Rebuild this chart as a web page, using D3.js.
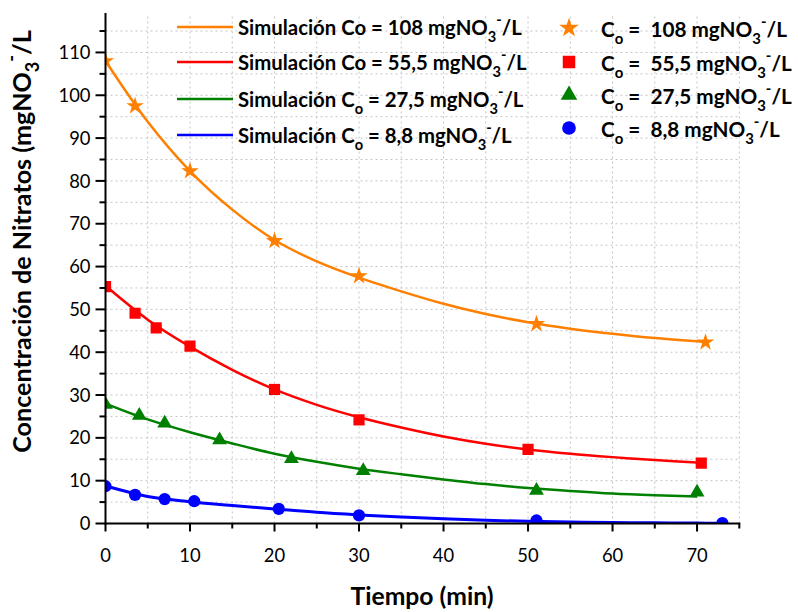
<!DOCTYPE html>
<html>
<head>
<meta charset="utf-8">
<script src="https://cdn.jsdelivr.net/npm/d3@7"></script>
<style>
  html, body { margin: 0; padding: 0; background: #fff; }
  svg { display: block; }
  text { font-family: Lato, "Open Sans", sans-serif; fill: #000; }
</style>
</head>
<body>
<svg id="chart" width="798" height="612"></svg>
<script>
// ---------- DATA ----------
// Observed (experimental) points
const obsT108 = [0, 3.5, 10, 20, 30, 51, 71];
const obs108  = [108, 97.5, 82.3, 66, 57.8, 46.6, 42.3];
const obsT55  = [0, 3.5, 6, 10, 20, 30, 50, 70.5];
const obs55   = [55.3, 49.1, 45.7, 41.4, 31.3, 24.2, 17.3, 14.1];
const obsT27  = [0, 4, 7, 13.5, 22, 30.5, 51, 70];
const obs27   = [27.8, 25.2, 23.4, 19.5, 15.1, 12.3, 7.7, 7.3];
const obsT8   = [0, 3.5, 7, 10.5, 20.5, 30, 51, 73];
const obs8    = [8.7, 6.7, 5.7, 5.2, 3.4, 1.9, 0.7, 0.1];

// Simulated curves
const simT108 = [0, 5, 10, 15, 20, 25, 30, 35, 40, 45, 50, 55, 60, 65, 71];
const sim108  = [108, 93.8, 82.3, 73.3, 66.2, 61.2, 57.4, 54.2, 51.3, 48.9, 47.0, 45.5, 44.3, 43.3, 42.4];
const simT55  = [0, 5, 10, 15, 20, 25, 30, 35, 40, 45, 50, 55, 60, 65, 70.5];
const sim55   = [55.5, 47.6, 41.3, 35.9, 31.3, 27.7, 24.8, 22.4, 20.3, 18.6, 17.3, 16.3, 15.5, 14.8, 14.2];
const simT27  = [0, 5, 10, 15, 20, 25, 30, 35, 40, 45, 50, 55, 60, 65, 70];
const sim27   = [28, 24.3, 21.3, 18.7, 16.3, 14.4, 12.8, 11.5, 10.3, 9.2, 8.3, 7.6, 7.0, 6.6, 6.3];
const simT8   = [0, 5, 10, 15, 20, 25, 30, 35, 40, 45, 50, 55, 60, 65, 70, 73];
const sim8    = [8.8, 6.3, 5.1, 4.2, 3.4, 2.6, 2.0, 1.5, 1.1, 0.75, 0.5, 0.35, 0.25, 0.15, 0.1, 0.05];

// Labels
const seriesCo     = ["108", "55,5", "27,5", "8,8"];
const simCoStyle   = ["plain", "plain", "sub", "sub"];
const colors       = ["#FF8000", "#FF0000", "#008000", "#0000FF"];
const markerTypes  = ["star", "square", "triangle", "circle"];
const xMajorTicks  = [0, 10, 20, 30, 40, 50, 60, 70];
const yMajorTicks  = [0, 10, 20, 30, 40, 50, 60, 70, 80, 90, 100, 110];
const xTitle = "Tiempo (min)";
const yTitleMain = "Concentración de Nitratos (mgNO";

// ---------- LAYOUT ----------
const svg = d3.select("#chart");
const x = d3.scaleLinear().domain([0, 75]).range([105.5, 739.3]);
const y = d3.scaleLinear().domain([0, 119]).range([523.5, 13.9]);
const x0 = x.range()[0], x1 = x.range()[1], yb = y.range()[0], yt = y.range()[1];

const symbolMap = { star: d3.symbolStar, square: d3.symbolSquare, triangle: d3.symbolTriangle, circle: d3.symbolCircle };
const symbolSize = { star: 95, square: 125, triangle: 95, circle: 118 };

// rich text helper: parts = [[string, kind]] kind: n | sub | sup
function richText(parent, parts, fs, weight) {
  const t = parent.append("text").attr("font-size", fs).attr("font-weight", weight).style("white-space", "pre");
  let cur = 0;
  parts.forEach(([s, k]) => {
    const target = k === "sub" ? 0.32 * fs : k === "sup" ? -0.5 * fs : 0;
    const dy = target - cur; cur = target;
    t.append("tspan").attr("dy", dy).attr("font-size", k === "n" ? fs : 0.72 * fs).text(s);
  });
  return t;
}
function fittedSize(parts, base, weight, target) {
  const t = richText(svg, parts, base, weight);
  const w = t.node().getComputedTextLength();
  t.remove();
  return base * target / w;
}

// ---------- GRID ----------
const grid = svg.append("g").attr("stroke", "#c4c4c4").attr("stroke-width", 1).attr("stroke-dasharray", "2,3");
grid.selectAll("line.v").data(d3.range(5, 76, 5)).join("line")
  .attr("x1", d => x(d)).attr("x2", d => x(d)).attr("y1", yb).attr("y2", yt);
grid.selectAll("line.h").data(d3.range(5, 116, 5)).join("line")
  .attr("class", "h").attr("x1", x0).attr("x2", x1).attr("y1", d => y(d)).attr("y2", d => y(d));

// ---------- CURVES & MARKERS ----------
svg.append("defs").append("clipPath").attr("id", "plotClip")
  .append("rect").attr("x", x0).attr("y", yt).attr("width", x1 - x0).attr("height", yb - yt);
const plot = svg.append("g").attr("clip-path", "url(#plotClip)");

const sims = [[simT108, sim108], [simT55, sim55], [simT27, sim27], [simT8, sim8]];
const obs  = [[obsT108, obs108], [obsT55, obs55], [obsT27, obs27], [obsT8, obs8]];
const line = d3.line().x(d => x(d[0])).y(d => y(d[1])).curve(d3.curveCatmullRom.alpha(0.5));

sims.forEach(([ts, vs], i) => {
  plot.append("path").datum(ts.map((t, j) => [t, vs[j]]))
    .attr("d", line).attr("fill", "none").attr("stroke", colors[i])
    .attr("stroke-width", i === 3 ? 3 : 2.5);
});
obs.forEach(([ts, vs], i) => {
  const m = markerTypes[i];
  const sym = d3.symbol().type(symbolMap[m]).size(symbolSize[m]);
  plot.append("g").selectAll("path").data(ts.map((t, j) => [t, vs[j]])).join("path")
    .attr("d", sym).attr("fill", colors[i])
    .attr("transform", d => `translate(${x(d[0])},${y(d[1])})`);
});

// ---------- AXES ----------
const tickFs = fittedSize([["110", "n"]], 20, "normal", 32);
const ax = svg.append("g").attr("stroke", "#000").attr("stroke-width", 2);
ax.append("line").attr("x1", x0).attr("x2", x1).attr("y1", yb).attr("y2", yb).attr("stroke-linecap", "square");
ax.append("line").attr("x1", x0).attr("x2", x0).attr("y1", yb).attr("y2", yt).attr("stroke-linecap", "square");
// x ticks
ax.selectAll("line.xM").data(xMajorTicks).join("line").attr("class", "xM")
  .attr("x1", d => x(d)).attr("x2", d => x(d)).attr("y1", yb).attr("y2", yb + 8);
ax.selectAll("line.xm").data(d3.range(5, 76, 10)).join("line").attr("class", "xm")
  .attr("x1", d => x(d)).attr("x2", d => x(d)).attr("y1", yb).attr("y2", yb + 5);
// y ticks
ax.selectAll("line.yM").data(yMajorTicks).join("line").attr("class", "yM")
  .attr("x1", x0 - 10).attr("x2", x0).attr("y1", d => y(d)).attr("y2", d => y(d));
ax.selectAll("line.ym").data(d3.range(5, 116, 10)).join("line").attr("class", "ym")
  .attr("x1", x0 - 6).attr("x2", x0).attr("y1", d => y(d)).attr("y2", d => y(d));

svg.append("g").selectAll("text").data(xMajorTicks).join("text")
  .attr("x", d => x(d)).attr("y", yb + 38).attr("text-anchor", "middle")
  .attr("font-size", tickFs).text(d => d);
svg.append("g").selectAll("text").data(yMajorTicks).join("text")
  .attr("x", x0 - 15).attr("y", d => y(d)).attr("dy", "0.36em").attr("text-anchor", "end")
  .attr("font-size", tickFs).text(d => d);

// titles
const xtFs = fittedSize([[xTitle, "n"]], 20, "bold", 143);
svg.append("text").attr("x", 422).attr("y", 605).attr("text-anchor", "middle")
  .attr("font-size", xtFs).attr("font-weight", "bold").text(xTitle);

const yParts = [[yTitleMain, "n"], ["3", "sub"], ["-", "sup"], ["/L", "n"]];
const ytFs = fittedSize(yParts, 20, "bold", 423);
const ytG = svg.append("g").attr("transform", "translate(31,241.5) rotate(-90)");
richText(ytG, yParts, ytFs, "bold").attr("text-anchor", "middle");

// ---------- LEGENDS ----------
function simParts(i) {
  const c = simCoStyle[i] === "plain" ? [["Simulación Co = " + seriesCo[i] + " mgNO", "n"]]
    : [["Simulación C", "n"], ["o", "sub"], [" = " + seriesCo[i] + " mgNO", "n"]];
  return c.concat([["3", "sub"], ["-", "sup"], ["/L", "n"]]);
}
function obsParts(i) {
  return [["C", "n"], ["o", "sub"], [" =\u00a0 " + seriesCo[i] + " mgNO", "n"], ["3", "sub"], ["-", "sup"], ["/L", "n"]];
}
const legLFs = fittedSize(simParts(0), 20, "bold", 284);
const legRFs = fittedSize(obsParts(0), 20, "bold", 186);
const legLY = [27, 62, 99, 135];
const legRY = [28, 62, 95, 128];

const legL = svg.append("g");
seriesCo.forEach((c, i) => {
  legL.append("line").attr("x1", 177).attr("x2", 233).attr("y1", legLY[i]).attr("y2", legLY[i])
    .attr("stroke", colors[i]).attr("stroke-width", 2.5);
  richText(legL, simParts(i), legLFs, "bold").attr("x", 238).attr("y", legLY[i] + 8);
});
const legR = svg.append("g");
seriesCo.forEach((c, i) => {
  const m = markerTypes[i];
  legR.append("path").attr("d", d3.symbol().type(symbolMap[m]).size(symbolSize[m] * 1.25))
    .attr("fill", colors[i]).attr("transform", `translate(569,${legRY[i]})`);
  richText(legR, obsParts(i), legRFs, "bold").attr("x", 601).attr("y", legRY[i] + 9);
});
</script>
</body>
</html>
